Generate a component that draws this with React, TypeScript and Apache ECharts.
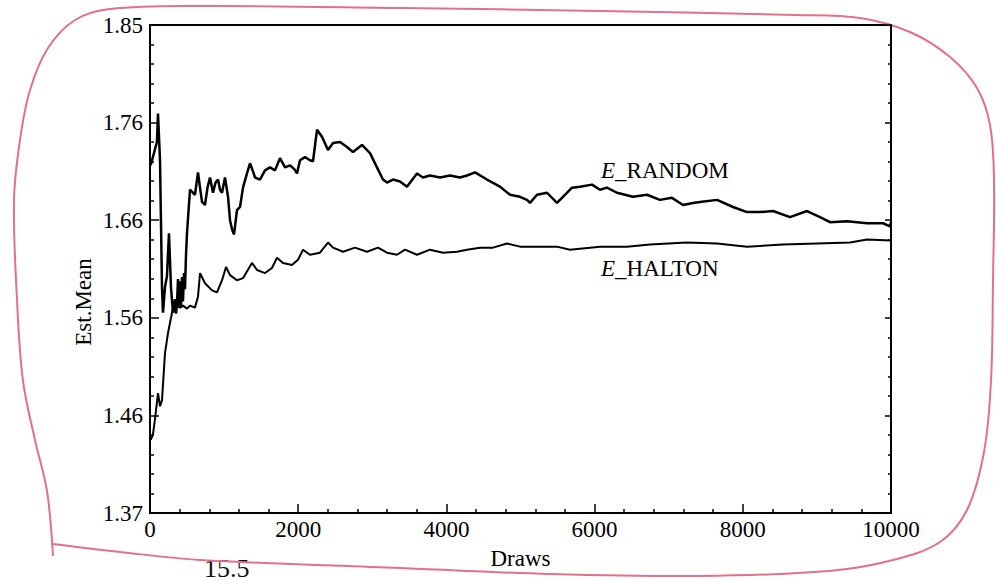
import React, { useEffect, useRef } from "react";
import * as echarts from "echarts";

const X_MIN = 0;
const X_MAX = 10000;
const X_STEP = 2000;
const Y_MIN = 1.37;
const Y_MAX = 1.85;
const Y_STEP = 0.096;
const yTickLabels = ["1.37", "1.46", "1.56", "1.66", "1.76", "1.85"];

const drawsRandom = [
  10, 94, 108, 135, 162, 175, 202, 229, 256, 283, 310, 337, 351, 364, 378, 392, 405, 418, 432, 445,
  459, 472, 485, 499, 540, 580, 607, 648, 675, 702, 742, 776, 810, 850, 884, 918, 945, 972, 1012, 1053,
  1080, 1107, 1134, 1174, 1215, 1255, 1309, 1350, 1390, 1417, 1484, 1552, 1619, 1687, 1754, 1822, 1889, 1950, 1984, 2024,
  2092, 2159, 2200, 2254, 2321, 2402, 2470, 2564, 2659, 2739, 2861, 2969, 3063, 3144, 3198, 3279, 3374, 3468, 3603, 3684,
  3779, 3914, 4049, 4183, 4278, 4386, 4548, 4723, 4858, 4993, 5088, 5128, 5223, 5358, 5492, 5573, 5695, 5803, 5965, 6073,
  6167, 6302, 6518, 6707, 6882, 7044, 7193, 7328, 7422, 7652, 7868, 8057, 8232, 8407, 8637, 8866, 9042, 9177, 9406, 9676,
  9892, 9986, 10000,
];
const estRandom = [
  1.712, 1.735, 1.763, 1.717, 1.592, 1.567, 1.592, 1.603, 1.645, 1.592, 1.567, 1.58, 1.566, 1.575, 1.6, 1.574, 1.598, 1.572, 1.602, 1.578,
  1.606, 1.59, 1.622, 1.645, 1.688, 1.685, 1.683, 1.705, 1.69, 1.676, 1.673, 1.69, 1.7, 1.685, 1.695, 1.698, 1.688, 1.685, 1.7, 1.681,
  1.658, 1.649, 1.644, 1.668, 1.671, 1.69, 1.704, 1.714, 1.706, 1.7, 1.698, 1.707, 1.71, 1.707, 1.719, 1.71, 1.712, 1.708, 1.704, 1.717,
  1.72, 1.717, 1.716, 1.747, 1.74, 1.727, 1.734, 1.735, 1.73, 1.725, 1.732, 1.724, 1.71, 1.698, 1.695, 1.698, 1.696, 1.691, 1.704, 1.7,
  1.702, 1.7, 1.702, 1.7, 1.702, 1.705, 1.698, 1.691, 1.683, 1.681, 1.678, 1.675, 1.683, 1.685, 1.675, 1.681, 1.69, 1.691, 1.693, 1.688,
  1.69, 1.685, 1.681, 1.683, 1.678, 1.68, 1.673, 1.675, 1.676, 1.678, 1.671, 1.666, 1.666, 1.667, 1.661, 1.667, 1.661, 1.656, 1.657, 1.655,
  1.655, 1.652, 1.656,
];

const drawsHalton = [
  10, 40, 67, 108, 135, 162, 202, 243, 297, 337, 364, 405, 445, 499, 540, 607, 648, 675, 742, 837,
  904, 972, 1026, 1080, 1174, 1255, 1376, 1444, 1552, 1646, 1714, 1795, 1916, 1997, 2065, 2159, 2294, 2402, 2470, 2605,
  2766, 2928, 3077, 3198, 3333, 3441, 3603, 3779, 3954, 4143, 4278, 4453, 4629, 4818, 4993, 5088, 5492, 5668, 6073, 6437,
  6748, 7247, 7652, 8057, 8542, 9001, 9447, 9676, 10000,
];
const estHalton = [
  1.442, 1.447, 1.462, 1.488, 1.475, 1.481, 1.527, 1.547, 1.567, 1.58, 1.574, 1.572, 1.574, 1.571, 1.574, 1.572, 1.583, 1.606, 1.596, 1.589,
  1.587, 1.599, 1.612, 1.604, 1.599, 1.601, 1.616, 1.609, 1.606, 1.611, 1.621, 1.616, 1.614, 1.619, 1.629, 1.624, 1.626, 1.636, 1.631, 1.627,
  1.631, 1.627, 1.631, 1.626, 1.624, 1.629, 1.624, 1.629, 1.626, 1.627, 1.629, 1.631, 1.631, 1.635, 1.632, 1.632, 1.632, 1.629, 1.632, 1.632,
  1.634, 1.636, 1.635, 1.632, 1.634, 1.635, 1.636, 1.639, 1.638,
];

const SERIF = '"Liberation Serif", "Times New Roman", serif';
const PINK = "#e2708c";
const FS = 23;

const zip = (xs: number[], ys: number[]) => xs.map((x, i) => [x, ys[i]]);

export default function App() {
  const ref = useRef<HTMLDivElement>(null);
  useEffect(() => {
    if (!ref.current) return;
    const chart = echarts.init(ref.current, null, { renderer: "svg" });
    const yFmt = (v: number) => {
      const i = Math.round((v - Y_MIN) / Y_STEP);
      return yTickLabels[i] ?? "";
    };
    const xFmt = (v: number) => String(Math.round(v));
    const tickStyle = { color: "#000", width: 1.5 };
    chart.setOption({
      animation: false,
      backgroundColor: "#fff",
      textStyle: { fontFamily: SERIF },
      grid: {
        left: 150,
        right: 105,
        top: 25,
        bottom: 68,
        show: true,
        borderColor: "#000",
        borderWidth: 2,
        backgroundColor: "transparent",
      },
      xAxis: {
        type: "value",
        min: X_MIN,
        max: X_MAX,
        interval: X_STEP,
        name: "Draws",
        nameLocation: "middle",
        nameGap: 34,
        nameTextStyle: { fontFamily: SERIF, fontSize: FS, color: "#000" },
        axisLine: { show: true, lineStyle: { color: "#000", width: 2 } },
        axisTick: { show: true, inside: true, length: 9, lineStyle: tickStyle },
        minorTick: { show: true, splitNumber: 5, length: 4, lineStyle: tickStyle },
        axisLabel: { fontFamily: SERIF, fontSize: FS, color: "#000", margin: 5, formatter: xFmt },
        splitLine: { show: false },
      },
      yAxis: [
        {
          type: "value",
          min: Y_MIN,
          max: Y_MAX,
          interval: Y_STEP,
          axisLine: { show: true, lineStyle: { color: "#000", width: 2 } },
          axisTick: { show: true, inside: true, length: 9, lineStyle: tickStyle },
          minorTick: { show: true, splitNumber: 5, length: 4, lineStyle: tickStyle },
          axisLabel: { fontFamily: SERIF, fontSize: FS, color: "#000", margin: 7, formatter: yFmt },
          splitLine: { show: false },
        },
        {
          type: "value",
          position: "right",
          min: Y_MIN,
          max: Y_MAX,
          interval: Y_STEP,
          axisLine: { show: true, lineStyle: { color: "#000", width: 2 } },
          axisTick: { show: true, inside: true, length: 6, lineStyle: tickStyle },
          minorTick: { show: true, splitNumber: 5, length: 3, lineStyle: tickStyle },
          axisLabel: { show: false },
          splitLine: { show: false },
        },
      ],
      series: [
        {
          name: "E_RANDOM",
          type: "line",
          data: zip(drawsRandom, estRandom),
          showSymbol: false,
          symbol: "none",
          lineStyle: { color: "#000", width: 2.5 },
          z: 3,
        },
        {
          name: "E_HALTON",
          type: "line",
          data: zip(drawsHalton, estHalton),
          showSymbol: false,
          symbol: "none",
          lineStyle: { color: "#000", width: 2 },
          z: 3,
        },
      ],
      graphic: [
        {
          type: "text",
          x: 83,
          y: 302,
          rotation: Math.PI / 2,
          style: {
            text: "Est.Mean",
            font: `${FS}px ${SERIF}`,
            fill: "#000",
            textAlign: "center",
            textVerticalAlign: "middle",
          },
        },
        {
          type: "text",
          x: 601,
          y: 170,
          style: {
            text: "{i|E}_RANDOM",
            font: `${FS}px ${SERIF}`,
            fill: "#000",
            textAlign: "left",
            textVerticalAlign: "middle",
            rich: { i: { fontStyle: "italic", fontFamily: SERIF, fontSize: FS } },
          },
        },
        {
          type: "text",
          x: 601,
          y: 268,
          style: {
            text: "{i|E}_HALTON",
            font: `${FS}px ${SERIF}`,
            fill: "#000",
            textAlign: "left",
            textVerticalAlign: "middle",
            rich: { i: { fontStyle: "italic", fontFamily: SERIF, fontSize: FS } },
          },
        },
        {
          type: "text",
          x: 204,
          y: 581,
          style: {
            text: "15.5",
            font: `26px ${SERIF}`,
            fill: "#111",
            textAlign: "left",
            textVerticalAlign: "bottom",
          },
        },
        {
          type: "polyline",
          shape: {
            smooth: 0.35,
            points: [
              [53, 556], [47, 491], [35, 440], [23, 381], [17, 300], [14, 200], [20, 140], [30, 90],
              [48, 48], [75, 20], [110, 9], [200, 6], [400, 8], [600, 11], [796, 15], [860, 18],
              [910, 32], [950, 57], [977, 88], [990, 125], [994, 180], [993, 280], [991, 381], [984, 452],
              [967, 510], [940, 542], [893, 560], [829, 571], [700, 576], [550, 574], [400, 568], [200, 560],
              [120, 552], [53, 544],
            ],
          },
          style: { stroke: PINK, lineWidth: 2, fill: "none" },
          silent: true,
        },
      ],
    });
    return () => chart.dispose();
  }, []);
  return (
    <div
      ref={ref}
      style={{ position: "fixed", left: 0, top: 0, width: 996, height: 581, background: "#fff" }}
    />
  );
}
